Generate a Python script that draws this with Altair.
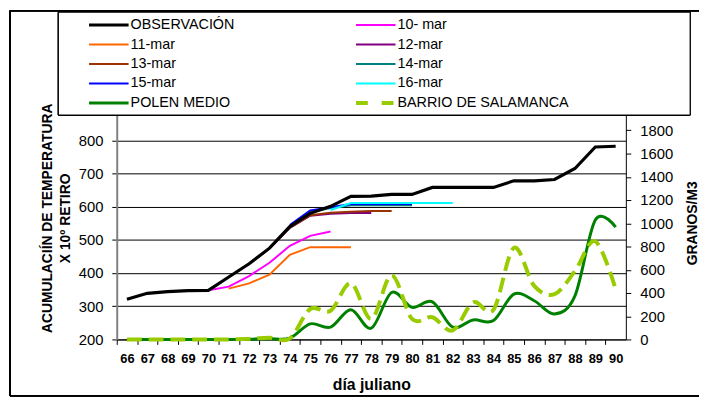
import altair as alt
import pandas as pd

days = list(range(66, 91))

observacion = [321, 339, 344, 347, 348, 388, 428, 475, 540, 580, 601, 631, 632,
               637, 637, 658, 658, 658, 658, 678, 678, 682, 715, 780, 782]

# forecasts: (first julian day, values)
mar10 = (70, [348, 359, 391, 431, 482, 512, 525])
mar11 = (71, [353, 369, 395, 455, 478, 478, 478])
mar12 = (72, [428, 474, 536, 573, 579, 581, 581])
mar13 = (73, [475, 537, 574, 582, 585, 587, 587])
mar14 = (74, [541, 583, 596, 604, 604, 604, 604])
mar15 = (74, [545, 589, 598, 608, 608, 608, 608])
mar16 = (76, [590, 611, 611, 611, 611, 611, 611])

polen_medio = [0, 0, 0, 0, 0, 0, 2, 6, 12, 134, 106, 256, 97, 404, 276, 324,
               106, 168, 162, 390, 333, 219, 375, 1029, 967]
barrio_salamanca = [0, 0, 0, 0, 0, 0, 5, 15, 8, 262, 247, 484, 177, 552, 176,
                    191, 77, 319, 256, 788, 461, 390, 589, 845, 432]

series_names = ["OBSERVACIÓN", "10- mar", "11-mar", "12-mar", "13-mar", "14-mar",
                "15-mar", "16-mar", "POLEN MEDIO", "BARRIO DE SALAMANCA"]
series_colors = ["#000000", "#FF00FF", "#FF6600", "#800080", "#993300", "#008080",
                 "#0000FF", "#00FFFF", "#008000", "#99CC00"]

obs_df = pd.DataFrame({"day": days, "value": observacion, "series": series_names[0]})

rows = []
for name, (start, vals) in zip(series_names[1:8], [mar10, mar11, mar12, mar13, mar14, mar15, mar16]):
    for i, v in enumerate(vals):
        rows.append({"day": start + i, "value": v, "series": name})
fc_df = pd.DataFrame(rows)

polen_df = pd.DataFrame({"day": days, "value": polen_medio, "series": series_names[8]})
barrio_df = pd.DataFrame({"day": days, "value": barrio_salamanca, "series": series_names[9]})
legend_df = pd.DataFrame({"series": series_names, "idx": list(range(len(series_names)))})

color_scale = alt.Scale(domain=series_names, range=series_colors)
font = "Liberation Sans"

x_enc = alt.X("day:Q", scale=alt.Scale(domain=[65.5, 90.5], nice=False, zero=False),
              axis=alt.Axis(values=days + [91], labelExpr="datum.value > 90 ? '' : datum.label",
                            tickOffset=-10.3, labelOffset=10.3, labelFontWeight="bold",
                            labelFontSize=13, labelPadding=8, tickSize=5, grid=False,
                            domainColor="#000", tickColor="#000", labelColor="#000",
                            title="día juliano", titleFontSize=16, titleFontWeight="bold",
                            titlePadding=12, titleColor="#000"))

y_left = alt.Y("value:Q", scale=alt.Scale(domain=[200, 900], nice=False, zero=False),
               axis=alt.Axis(values=[200, 300, 400, 500, 600, 700, 800],
                             title=["ACUMULACIÍN DE TEMPERATURA", "X 10º  RETIRO"],
                             titleAngle=270, titleX=-70, titleY=112, titleAlign="center",
                             titleBaseline="middle", titleFontSize=14, titleFontWeight="bold",
                             titleLineHeight=18, titleColor="#000",
                             labelFontSize=15, labelPadding=9, tickSize=5, labelColor="#000",
                             grid=True, gridColor="#000", gridWidth=1,
                             domainColor="#808080", domainWidth=2, tickColor="#000"))

y_right = alt.Y("value:Q", scale=alt.Scale(domain=[0, 2000], nice=False),
                axis=alt.Axis(orient="right", values=list(range(0, 2000, 200)), format="d",
                              title="GRANOS/M3", titleAngle=270, titleX=67, titleY=117,
                              titleAlign="center", titleBaseline="middle", titleFontSize=14,
                              titleFontWeight="bold", titleColor="#000",
                              labelFontSize=15, labelPadding=9, tickSize=5, labelColor="#000",
                              grid=False, domainColor="#000", tickColor="#000"))

forecasts = alt.Chart(fc_df).mark_line(strokeWidth=2).encode(
    x=x_enc, y=y_left,
    color=alt.Color("series:N", scale=color_scale, legend=None),
)
obs = alt.Chart(obs_df).mark_line(strokeWidth=3.2, color="#000000").encode(x=x_enc, y=y_left)

polen = alt.Chart(polen_df).mark_line(strokeWidth=3, color="#008000", interpolate="cardinal").encode(
    x=x_enc, y=y_right)
barrio = alt.Chart(barrio_df).mark_line(strokeWidth=4, color="#99CC00", strokeDash=[15, 7],
                                        interpolate="cardinal").encode(x=x_enc, y=y_right)

# legend drawn by hand, on top of the plot's upper edge
border = alt.Chart(legend_df).mark_rect(filled=False, stroke="#000", strokeWidth=1).encode(
    x=alt.value(-108), x2=alt.value(600), y=alt.value(-97.5), y2=alt.value(292))
box = alt.Chart(legend_df).mark_rect(fill="white", stroke="#000", strokeWidth=1).encode(
    x=alt.value(-59), x2=alt.value(580), y=alt.value(-96), y2=alt.value(8))

legend_pos = alt.Chart(legend_df).transform_calculate(
    col="datum.idx % 2", row="floor(datum.idx / 2)"
).transform_calculate(
    x0="-28 + datum.col * 270", x1="12 + datum.col * 270", tx="14 + datum.col * 270",
    ly="-83 + datum.row * 19.7",
    sw="datum.series == 'BARRIO DE SALAMANCA' ? 4 : (datum.series == 'OBSERVACIÓN' || datum.series == 'POLEN MEDIO') ? 3 : 2",
)
legend_lines = legend_pos.mark_rule().encode(
    x=alt.X("x0:Q", scale=None, axis=None), x2="x1:Q",
    y=alt.Y("ly:Q", scale=None, axis=None),
    color=alt.Color("series:N", scale=color_scale, legend=None),
    strokeWidth=alt.StrokeWidth("sw:Q", scale=None, legend=None),
    strokeDash=alt.condition("datum.series == 'BARRIO DE SALAMANCA'", alt.value([12, 14]), alt.value([1, 0])),
)
legend_text = legend_pos.mark_text(align="left", baseline="middle", fontSize=14.5, color="#000").encode(
    x=alt.X("tx:Q", scale=None, axis=None),
    y=alt.Y("ly:Q", scale=None, axis=None),
    text="series:N",
)

left = alt.layer(border, forecasts, obs)
right = alt.layer(polen, barrio, box, legend_lines, legend_text)

chart = alt.layer(left, right).resolve_scale(y="independent").properties(
    width=515, height=235,
    autosize=alt.AutoSizeParams(type="none"),
    padding={"left": 110, "top": 98, "right": 74, "bottom": 59},
).configure(font=font).configure_view(stroke=None)

chart.save("out.html", embed_options={"renderer": "svg", "actions": False})
